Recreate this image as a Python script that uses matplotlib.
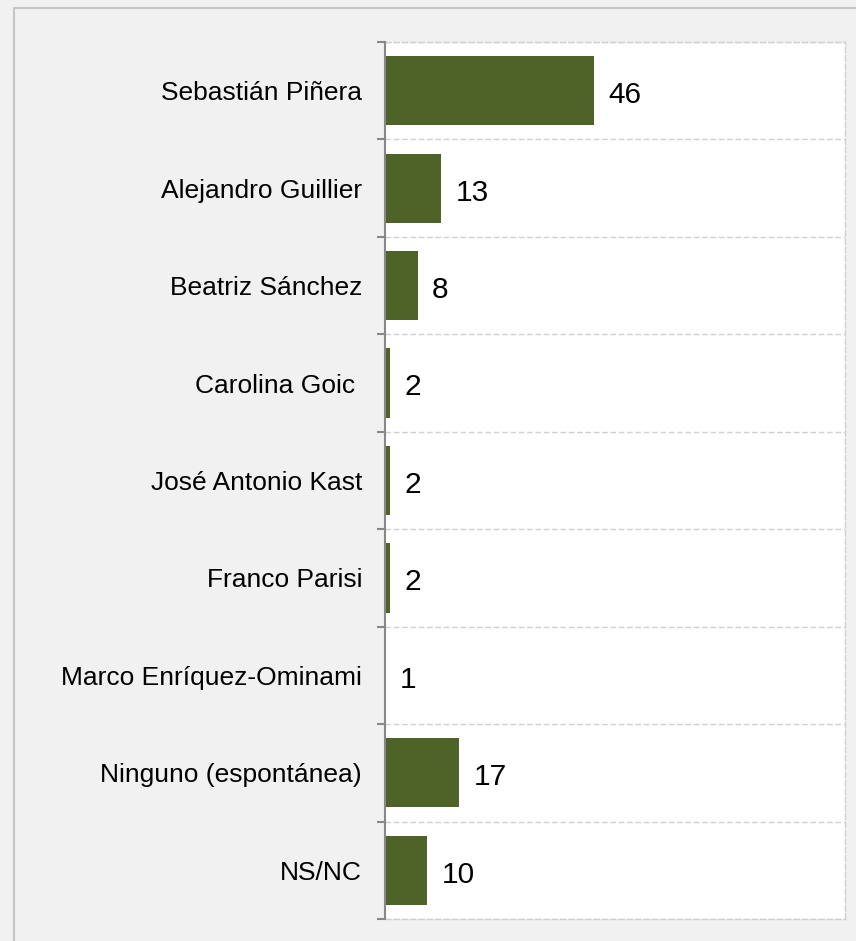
import matplotlib.pyplot as plt
from matplotlib.patches import Rectangle
import numpy as np

plt.rcParams['font.family'] = ['Liberation Sans', 'DejaVu Sans']

candidates = ["Sebastián Piñera", "Alejandro Guillier", "Beatriz Sánchez",
              "Carolina Goic ", "José Antonio Kast", "Franco Parisi",
              "Marco Enríquez-Ominami", "Ninguno (espontánea)", "NS/NC"]
percent = [46, 13, 8, 2, 2, 2, 1, 17, 10]

bar_color = "#4f6228"

fig = plt.figure(figsize=(8.56, 9.41), dpi=100)
fig.patch.set_facecolor("#f1f1f1")

# outer frame of the chart object (only top/left edges are inside the image)
fig.patches.append(Rectangle((14 / 856, -0.01), 1.0, 1 - 8 / 941 + 0.01,
                             transform=fig.transFigure, fill=False,
                             edgecolor="#c6c6c6", linewidth=1.5))

ax = fig.add_axes([385 / 856, 1 - 919 / 941, 460 / 856, 877 / 941])
ax.set_facecolor("white")

y = np.arange(len(candidates))
ax.barh(y, percent, height=0.71, color=bar_color, left=0)
ax.set_xlim(1, 100)
ax.set_ylim(len(candidates) - 0.5, -0.5)

for yi, v in zip(y, percent):
    ax.annotate(str(v), xy=(max(v, 1), yi), xytext=(10.5, -1),
                textcoords="offset points", va="center_baseline", ha="left",
                fontsize=21.5, color="black")

ax.set_yticks(y)
ax.set_yticklabels(candidates, fontsize=19)
ax.tick_params(axis="y", which="major", length=0, pad=16.5)
ax.set_yticks(np.arange(-0.5, len(candidates), 1), minor=True)
ax.tick_params(axis="y", which="minor", length=6, width=1.5, color="#888888")
ax.set_xticks([])

ax.grid(axis="y", which="minor", linestyle=(0, (4, 2)), color="#d0d0d0",
        linewidth=1)
ax.set_axisbelow(True)

for side in ["top", "right", "bottom"]:
    ax.spines[side].set_linestyle((0, (4, 2)))
    ax.spines[side].set_color("#d0d0d0")
    ax.spines[side].set_linewidth(1)
ax.spines["left"].set_color("#888888")
ax.spines["left"].set_linewidth(1.5)
ax.spines["left"].set_zorder(5)

fig.savefig("out.png", dpi=100, facecolor=fig.get_facecolor())
